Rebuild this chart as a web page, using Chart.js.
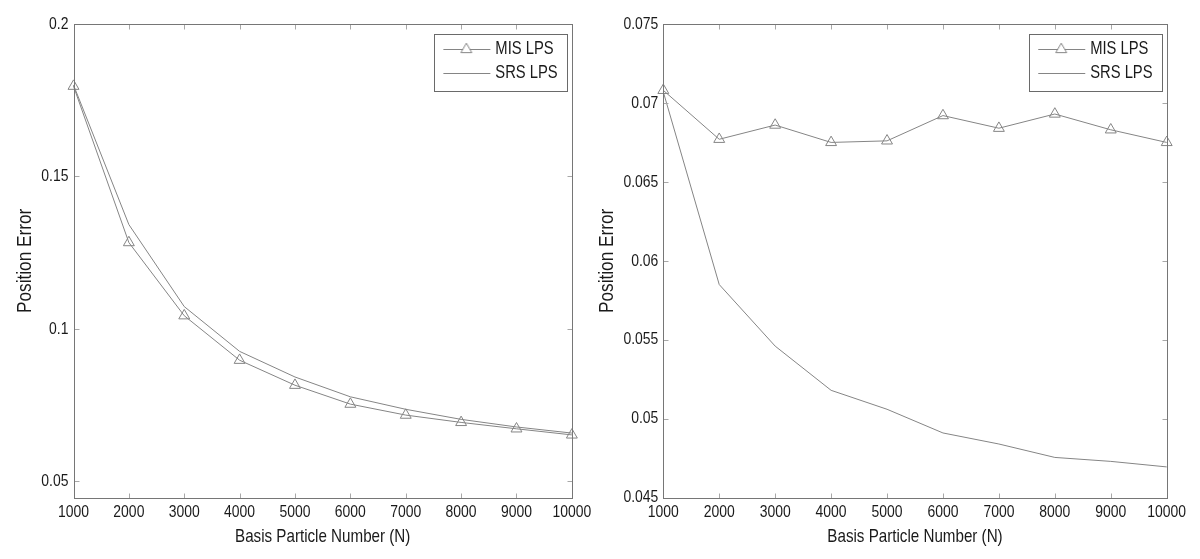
<!DOCTYPE html>
<html><head><meta charset="utf-8">
<script src="https://cdn.jsdelivr.net/npm/chart.js@4"></script>
<style>
html,body{margin:0;padding:0;background:#fff;width:1200px;height:559px;overflow:hidden}
#c1{position:absolute;left:0;top:0}
#c2{position:absolute;left:590px;top:0}
</style></head><body>
<canvas id="c1" width="600" height="559"></canvas>
<canvas id="c2" width="610" height="559"></canvas>
<script>
// ---- data ----
const particleNumbers = [1000, 2000, 3000, 4000, 5000, 6000, 7000, 8000, 9000, 10000];
const seriesNames = ['MIS LPS', 'SRS LPS'];
const misLeft  = [0.1796, 0.1283, 0.1043, 0.0897, 0.0815, 0.0753, 0.0717, 0.0693, 0.0672, 0.0652];
const srsLeft  = [0.1800, 0.1342, 0.1073, 0.0926, 0.0842, 0.0777, 0.0736, 0.0703, 0.0678, 0.0658];
const misRight = [0.0708, 0.0677, 0.0686, 0.0675, 0.0676, 0.0692, 0.0684, 0.0693, 0.0683, 0.0675];
const srsRight = [0.0707, 0.0585, 0.0546, 0.0518, 0.0506, 0.0491, 0.0484, 0.04755, 0.0473, 0.04695];
const xTicks = [1000, 2000, 3000, 4000, 5000, 6000, 7000, 8000, 9000, 10000];
const yTicksLeft = [0.05, 0.1, 0.15, 0.2];
const yTicksRight = [0.045, 0.05, 0.055, 0.06, 0.065, 0.07, 0.075];
const xTitle = 'Basis Particle Number (N)';
const yTitle = 'Position Error';

// ---- style ----
const FONT = "'Liberation Sans', Arial, sans-serif";
const NARROW = 0.82; // condense text like Arial Narrow
const lineColor = '#858585';
const frameColor = '#767676';
const tickColor = '#a8a8a8';
const textColor = '#1a1a1a';

function legendSample(withTriangle) {
  const c = document.createElement('canvas');
  c.width = 56; c.height = 16;
  const g = c.getContext('2d');
  g.strokeStyle = lineColor; g.lineWidth = 1;
  g.beginPath(); g.moveTo(8, 8.5); g.lineTo(55, 8.5); g.stroke();
  if (withTriangle) {
    const r = 6.3, cx = 31, cy = 8.5;
    g.beginPath();
    for (let k = 0; k < 3; k++) {
      const ang = k * 2 * Math.PI / 3;
      const px = cx + Math.sin(ang) * r, py = cy - Math.cos(ang) * r;
      k ? g.lineTo(px, py) : g.moveTo(px, py);
    }
    g.closePath(); g.fillStyle = '#fff'; g.fill(); g.stroke();
  }
  return c;
}

function makeChart(id, mis, srs, yTicks, yMin, yMax, area, yTitlePad) {
  const canvas = document.getElementById(id);
  const W = canvas.width, H = canvas.height;
  const c2d = canvas.getContext('2d');
  const origFill = c2d.fillText;
  c2d.fillText = function (text, x, y, maxWidth) {
    const w = this.measureText(text).width * NARROW;
    const mw = (maxWidth === undefined || maxWidth === null) ? w : Math.min(maxWidth, w);
    return origFill.call(this, text, x, y, mw);
  };
  const samples = [legendSample(true), legendSample(false)];
  const framePlugin = {
    id: 'frame',
    afterLayout(chart) {
      const lg = chart.legend, a = chart.chartArea;
      const LW = 133, LH = 57;
      lg.left = a.right - 4.5 - LW; lg.right = lg.left + LW;
      lg.top = a.top + 10; lg.bottom = lg.top + LH;
      lg.width = LW; lg.height = LH;
    },
    afterDraw(chart) {
      const {ctx, chartArea: a, scales: {x, y}} = chart;
      const L = Math.round(a.left) + 0.5, R = Math.round(a.right) + 0.5;
      const T = Math.round(a.top) + 0.5, B = Math.round(a.bottom) + 0.5;
      ctx.save();
      ctx.lineWidth = 1;
      ctx.strokeStyle = tickColor;
      ctx.beginPath();
      x.ticks.forEach(t => {
        const px = Math.round(x.getPixelForValue(t.value)) + 0.5;
        ctx.moveTo(px, B); ctx.lineTo(px, B - 5);
        ctx.moveTo(px, T); ctx.lineTo(px, T + 5);
      });
      y.ticks.forEach(t => {
        const py = Math.round(y.getPixelForValue(t.value)) + 0.5;
        ctx.moveTo(L, py); ctx.lineTo(L + 5, py);
        ctx.moveTo(R, py); ctx.lineTo(R - 5, py);
      });
      ctx.stroke();
      ctx.strokeStyle = frameColor;
      ctx.strokeRect(L, T, R - L, B - T);
      const lg = chart.legend;
      ctx.strokeStyle = '#6a6a6a';
      ctx.strokeRect(Math.round(lg.left) + 0.5, Math.round(lg.top) + 0.5, Math.round(lg.width), Math.round(lg.height));
      ctx.restore();
    }
  };
  return new Chart(canvas, {
    type: 'line',
    data: {
      datasets: [
        { label: seriesNames[0], data: particleNumbers.map((n, i) => ({x: n, y: mis[i]})),
          borderColor: lineColor, borderWidth: 1, pointStyle: 'triangle', pointRadius: 6.3,
          pointBorderColor: lineColor, pointBackgroundColor: 'rgba(255,255,255,0)', pointBorderWidth: 1,
          tension: 0, clip: false },
        { label: seriesNames[1], data: particleNumbers.map((n, i) => ({x: n, y: srs[i]})),
          borderColor: lineColor, borderWidth: 1, pointRadius: 0, tension: 0, clip: false }
      ]
    },
    options: {
      responsive: false, animation: false, devicePixelRatio: 1,
      layout: { padding: { left: 0, top: area.top, right: W - area.right, bottom: 0 } },
      plugins: {
        tooltip: { enabled: false },
        legend: {
          position: 'chartArea', align: 'start',
          labels: {
            usePointStyle: true, pointStyleWidth: 46, padding: 6,
            font: { family: FONT, size: 18 }, color: textColor,
            generateLabels(chart) {
              const items = Chart.defaults.plugins.legend.labels.generateLabels(chart);
              items.forEach((it, i) => { it.pointStyle = samples[i]; it.fontColor = textColor; });
              return items;
            }
          }
        }
      },
      scales: {
        x: {
          type: 'linear', min: 1000, max: 10000,
          afterBuildTicks(s) { s.ticks = xTicks.map(v => ({value: v})); },
          afterFit(s) { s.height = H - area.bottom; },
          grid: { display: false, drawTicks: false }, border: { display: false },
          ticks: { padding: 4.5, maxRotation: 0, autoSkip: false, color: textColor,
                   font: { family: FONT, size: 17 }, callback: v => String(v) },
          title: { display: true, text: xTitle, color: textColor, font: { family: FONT, size: 18.5 },
                   padding: { top: 0, bottom: 10.9 } }
        },
        y: {
          type: 'linear', min: yMin, max: yMax,
          afterBuildTicks(s) { s.ticks = yTicks.map(v => ({value: v})); },
          afterFit(s) { s.width = area.left; },
          grid: { display: false, drawTicks: false }, border: { display: false },
          ticks: { padding: 5, color: textColor, font: { family: FONT, size: 17 }, callback: v => String(v) },
          title: { display: true, text: yTitle, color: textColor, font: { family: FONT, size: 21 },
                   padding: { top: yTitlePad, bottom: 0 } }
        }
      }
    },
    plugins: [framePlugin]
  });
}

makeChart('c1', misLeft, srsLeft, yTicksLeft, 0.0446, 0.2,
  { left: 73.5, top: 24, right: 575.7, bottom: 497.7 }, 12.4);
makeChart('c2', misRight, srsRight, yTicksRight, 0.045, 0.075,
  { left: 73.3, top: 24, right: 576.7, bottom: 497.7 }, 4.4);
</script>
</body></html>
